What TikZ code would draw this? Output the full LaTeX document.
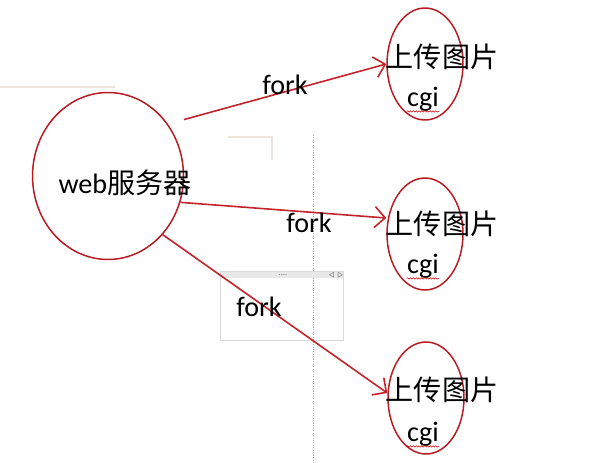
\documentclass[tikz,border=0pt]{standalone}
\usepackage{fontspec}
\setmainfont{Carlito}
\newfontfamily\cjk{Noto Sans CJK SC}
\definecolor{forkred}{HTML}{C42128}
\definecolor{ringred}{HTML}{B81C22}
\definecolor{shotgray}{HTML}{D9D9D9}
\definecolor{shotbeige}{HTML}{EDE4DA}
\usetikzlibrary{arrows.meta,positioning,shapes.geometric,decorations.pathmorphing}
\tikzset{
    serverring/.style={
        ellipse,
        draw=ringred,
        line width=0.85pt,
        inner sep=0pt,
        minimum width=3.02cm,
        minimum height=3.34cm
    },
    cgiring/.style={
        ellipse,
        draw=ringred,
        line width=0.85pt,
        inner sep=0pt,
        minimum width=1.52cm,
        minimum height=2.24cm
    },
    bigtext/.style={
        inner sep=0pt,
        font=\fontsize{16}{19}\selectfont
    },
    forkarrow/.style={
        -{Straight Barb[length=2.1mm,width=4.2mm]},
        draw=forkred,
        line width=0.9pt
    },
    spellmark/.style={
        draw=red!80!black,
        line width=0.3pt,
        decorate,
        decoration={snake,amplitude=0.4pt,segment length=1.6pt}
    }
}
\begin{document}
\begin{tikzpicture}[x=0.02cm,y=-0.02cm]
        \useasboundingbox (0,0) rectangle (602,463);
        % screenshot leftovers
        \draw[shotbeige,line width=1pt] (0,87) -- (115,87);
        \draw[shotbeige,line width=1pt] (228,137) -- (272,137) -- (272,160);
        \draw[gray!70,densely dotted,line width=0.4pt] (313,135) -- (313,463);
        \fill[shotgray!60] (220,271) rectangle (343,278);
        \draw[shotgray,line width=0.5pt] (220,271) rectangle (343,340);
        \node[inner sep=0pt,font=\tiny,text=gray!80!black] (grip) at (283,275) {....};
        \node[inner sep=0pt,font=\tiny,text=gray!80!black] (pager) at (336,275) {\fontsize{4}{4}\selectfont $\triangleleft\,\triangleright$};

        \node[serverring] (web) at (108,176) {};
        \node[bigtext] (webtext) at (125,183) {web{\cjk 服务器}};

        \node[cgiring] (cgitop) at (425,64) {};
        \node[cgiring] (cgimid) at (425,234) {};
        \node[cgiring] (cgibot) at (426,398) {};

        \node[bigtext] (uptop) at (442,57) {\cjk 上传图片};
        \node[bigtext] (upmid) at (442,224) {\cjk 上传图片};
        \node[bigtext] (upbot) at (442,390) {\cjk 上传图片};
        \node[bigtext] (cgitoptext) at (423,99) {cgi};
        \node[bigtext] (cgimidtext) at (423,266) {cgi};
        \node[bigtext] (cgibottext) at (423,434) {cgi};
        \draw[spellmark] (cgitoptext.south west) -- (cgitoptext.south east);
        \draw[spellmark] (cgimidtext.south west) -- (cgimidtext.south east);
        \draw[spellmark] (cgibottext.south west) -- (cgibottext.south east);

        \draw[forkarrow] ([shift={(13,-9)}]web.37) -- (cgitop.west);
        \draw[forkarrow] (web.-20) -- ([shift={(0,-16)}]cgimid.west);
        \draw[forkarrow] (web.-47) -- ([shift={(0,-5)}]cgibot.west);

        \node[bigtext] (forktop) at (285,85) {fork};
        \node[bigtext] (forkmid) at (309,223) {fork};
        \node[bigtext] (forkbot) at (259,307) {fork};
    \end{tikzpicture}
\end{document}
